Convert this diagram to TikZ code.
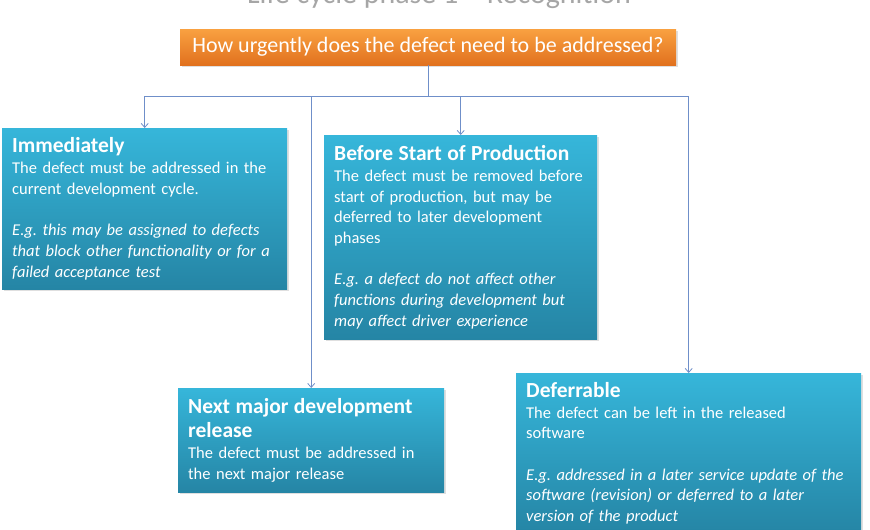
\documentclass[tikz,border=0pt]{standalone}
\usepackage{fontspec}
\setmainfont{Carlito}
\usepackage{xcolor}
\usepackage{tikz}
\usetikzlibrary{arrows.meta, shadows}

\definecolor{cardtop}{HTML}{36B6DA}
\definecolor{cardbot}{HTML}{2585A5}
\definecolor{asktop}{HTML}{F9A141}
\definecolor{askbot}{HTML}{E1711E}
\definecolor{linkblue}{HTML}{6F8FC9}

\newcommand{\cardhead}[1]{{\fontsize{21.5}{26}\selectfont\bfseries #1}}
\frenchspacing

\begin{document}
\begin{tikzpicture}[
    x=1pt, y=-1pt,
    every node/.style={font=\fontsize{16.5}{20.7}\selectfont, text=white},
    card/.style={anchor=north west, align=left, inner xsep=10pt, inner ysep=0pt,
      top color=cardtop, bottom color=cardbot,
      drop shadow={shadow xshift=2pt, shadow yshift=-2pt, opacity=0.25}},
    ask/.style={minimum width=496, minimum height=36, inner sep=0pt,
      top color=asktop, bottom color=askbot,
      font=\fontsize{22}{26}\selectfont,
      drop shadow={shadow xshift=2pt, shadow yshift=-2pt, opacity=0.25}},
    link/.style={draw=linkblue, line width=0.8pt, -{Straight Barb[length=4pt, width=7pt]}},
  ]
    % 画布（上方标题被裁掉一半）
    \clip (0, 0) rectangle (870, 530);

    % 标题
    \node[anchor=base, text=gray!70, font=\fontsize{30}{34}\selectfont] (title) at (439, 3)
      {Life cycle phase 1 -- Recognition};

    % 问题框
    \node[ask] (q) at (428, 47) {How urgently does the defect need to be addressed?};

    % 四个分类框
    \node[card, minimum width=285, minimum height=161, text width=265] (imm) at (2, 128)
      {\cardhead{Immediately}\\
       The defect must be addressed in the\\
       current development cycle.\\[20.7pt]
       \textit{E.g. this may be assigned to defects}\\
       \mbox{\textit{that block other functionality or for a}}\\
       \textit{failed acceptance test}};

    \node[card, minimum width=273, minimum height=204, text width=253] (sop) at (324, 135)
      {\cardhead{Before Start of Production}\\
       The defect must be removed before\\
       start of production, but may be\\
       deferred to later development\\
       phases\\[20.7pt]
       \textit{E.g. a defect do not affect other}\\
       \textit{functions during development but}\\
       \textit{may affect driver experience}};

    \node[card, minimum width=266, minimum height=104, text width=246] (next) at (178, 388)
      {\cardhead{Next major development}\\[4pt]
       \cardhead{release}\\
       The defect must be addressed in\\
       the next major release};

    \node[card, minimum width=345, minimum height=160, text width=325] (later) at (516, 373)
      {\cardhead{Deferrable}\\
       The defect can be left in the released\\
       software\\[20.7pt]
       \textit{E.g. addressed in a later service update of the}\\
       \textit{software (revision) or deferred to a later}\\
       \textit{version of the product}};

    % 连线
    \coordinate (fork) at (428, 96);
    \draw[link] (q.south) -- (fork) -| (imm.north);
    \draw[link] (fork) -| (next.north);
    \draw[link] (fork) -| (sop.north);
    \draw[link] (fork) -| (later.north);
\end{tikzpicture}
\end{document}
